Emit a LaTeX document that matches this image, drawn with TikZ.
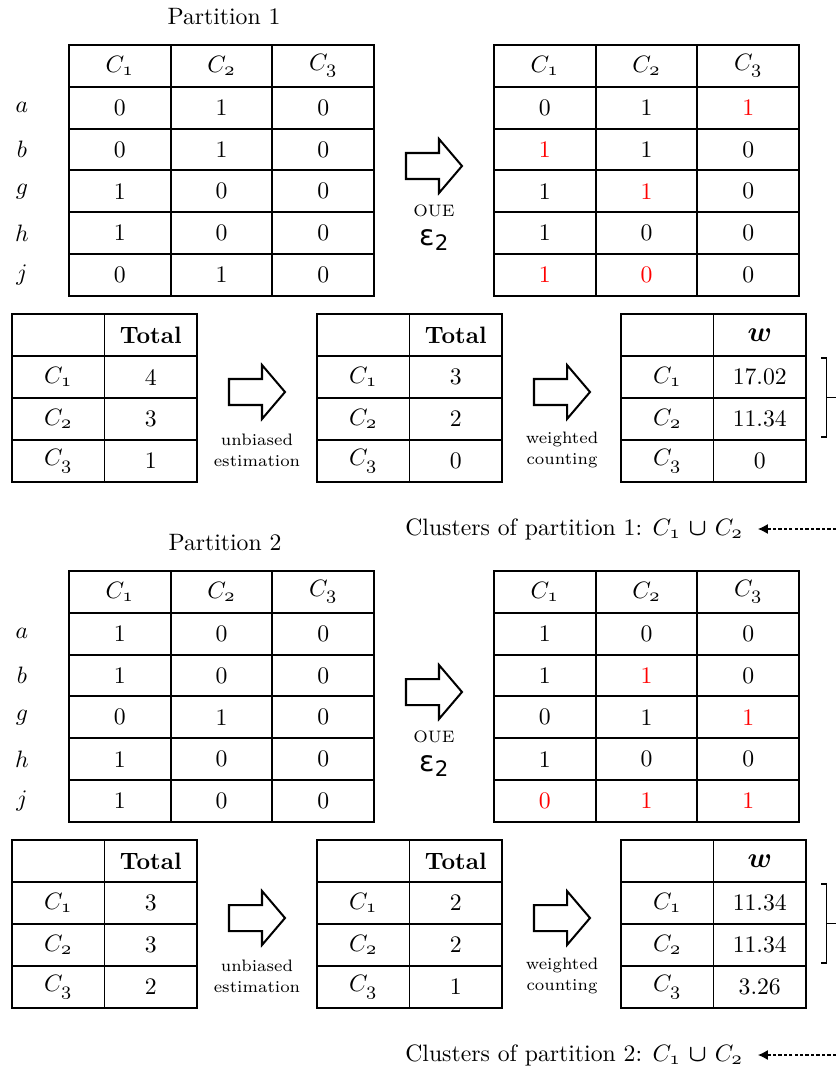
\documentclass[tikz,border=0pt]{standalone}
\usepackage{amsmath,bm}
\usepackage{fontspec}
\newfontfamily\dvs{DejaVu Sans}
\usetikzlibrary{arrows.meta}
\newcommand{\Cx}[1]{$C_{\text{\fontsize{8.5}{8.5}\selectfont$\mathnormal{#1}$}}$}
\newcommand{\Rd}[1]{\textcolor{red}{#1}}
\newcommand{\epstwo}{{\dvs\fontsize{12}{12}\selectfont ε}{\dvs\fontsize{9}{9}\selectfont\raisebox{-0.35ex}{2}}}
\tikzset{
  widecell/.style={draw, line width=0.8pt, inner sep=0pt, minimum width=101.67*0.422pt, minimum height=41.8*0.422pt},
  narrowcell/.style={draw, line width=0.8pt, inner sep=0pt, minimum width=92.5*0.422pt, minimum height=42*0.422pt},
  smalltxt/.style={font=\fontsize{7}{8.9}\selectfont, align=center},
  blockarr/.style={draw, line width=0.85pt, line join=miter, fill=white},
  brace/.style={line width=0.45pt},
  dasharr/.style={line width=0.45pt, dash pattern=on 1.4pt off 0.9pt, -{Latex[length=4.2pt,width=4.2pt]}},
}
\newcommand{\toptab}[4]{%
  \foreach \h [count=\j] in {1,2,3}
    \node[widecell] (#1-0-\j) at ({#2+(\j-0.5)*101.67}, {#3+20.9}) {\Cx{\h}};
  \foreach \row [count=\i] in {#4} {
    \foreach \v [count=\j] in \row
      \node[widecell] (#1-\i-\j) at ({#2+(\j-0.5)*101.67}, {#3+(\i+0.5)*41.8}) {\v};
  }
}
\newcommand{\bottab}[5]{%
  \node[narrowcell] (#1-0-1) at ({#2+46.25},{#3+21}) {};
  \node[narrowcell] (#1-0-2) at ({#2+138.75},{#3+21}) {#4};
  \foreach \v [count=\i] in {#5} {
    \node[narrowcell] (#1-\i-1) at ({#2+46.25},{#3+(\i+0.5)*42}) {\Cx{\i}};
    \node[narrowcell] (#1-\i-2) at ({#2+138.75},{#3+(\i+0.5)*42}) {\v};
  }
}
\newcommand{\blockarrow}[3]{%
  \coordinate (#1) at (#2,#3);
  \draw[blockarr] (#2-28,#3-13) -- (#2+5,#3-13) -- (#2+5,#3-27) -- (#2+28,#3) -- (#2+5,#3+27) -- (#2+5,#3+13) -- (#2-28,#3+13) -- cycle;
}
\newcommand{\wsym}{{\fontsize{12.5}{12.5}\selectfont$\bm{w}$}}
\begin{document}
\begin{tikzpicture}[x=0.422pt, y=-0.422pt]
\useasboundingbox (0,0) rectangle (836,1070);

% ===== Partition 1 =====
\node (p1) at (224,17) {Partition 1};
\toptab{A}{69}{45}{{0,1,0},{0,1,0},{1,0,0},{1,0,0},{0,1,0}}
\toptab{B}{494}{45}{{0,1,\Rd{1}},{\Rd{1},1,0},{1,\Rd{1},0},{1,0,0},{\Rd{1},\Rd{0},0}}
\foreach \l [count=\i] in {a,b,g,h,j}
  \node (la\i) at (22,{45+(\i+0.5)*41.8}) {$\l$};
\blockarrow{arA}{434}{166}
\node[smalltxt] (oueA) at (434,211) {OUE};
\node (epsA) at (434,240) {\epstwo};

\bottab{C}{12}{314}{\textbf{Total}}{4,3,1}
\bottab{D}{317}{314}{\textbf{Total}}{3,2,0}
\bottab{E}{621}{314}{\wsym}{17.02,11.34,0}
\blockarrow{arC}{257}{392}
\node[smalltxt] (ubA) at (257,450) {unbiased\\estimation};
\blockarrow{arD}{562}{392}
\node[smalltxt] (wcA) at (562,450) {weighted\\counting};
\draw[brace] (821,358) -- (826.5,358) -- (826.5,437) -- (821,437);
\draw[brace] (826.5,397.5) -- (836,397.5);
\node[anchor=west] (cl1) at (397,529) {Clusters of partition 1: \Cx{1} $\bm{\cup}$ \Cx{2}};
\coordinate (e1) at (836,529);
\draw[dasharr] (e1) -- ([xshift=2.8pt]cl1.east);

% ===== Partition 2 =====
\node (p2) at (225,543) {Partition 2};
\toptab{F}{69}{571}{{1,0,0},{1,0,0},{0,1,0},{1,0,0},{1,0,0}}
\toptab{G}{494}{571}{{1,0,0},{1,\Rd{1},0},{0,1,\Rd{1}},{1,0,0},{\Rd{0},\Rd{1},\Rd{1}}}
\foreach \l [count=\i] in {a,b,g,h,j}
  \node (lb\i) at (22,{571+(\i+0.5)*41.8}) {$\l$};
\blockarrow{arF}{434}{692}
\node[smalltxt] (oueB) at (434,737) {OUE};
\node (epsB) at (434,766) {\epstwo};

\bottab{H}{12}{840}{\textbf{Total}}{3,3,2}
\bottab{I}{317}{840}{\textbf{Total}}{2,2,1}
\bottab{J}{621}{840}{\wsym}{11.34,11.34,3.26}
\blockarrow{arH}{257}{918}
\node[smalltxt] (ubB) at (257,976) {unbiased\\estimation};
\blockarrow{arI}{562}{918}
\node[smalltxt] (wcB) at (562,976) {weighted\\counting};
\draw[brace] (821,884) -- (826.5,884) -- (826.5,963) -- (821,963);
\draw[brace] (826.5,923.5) -- (836,923.5);
\node[anchor=west] (cl2) at (397,1055) {Clusters of partition 2: \Cx{1} $\bm{\cup}$ \Cx{2}};
\coordinate (e2) at (836,1055);
\draw[dasharr] (e2) -- ([xshift=2.8pt]cl2.east);
\end{tikzpicture}
\end{document}
